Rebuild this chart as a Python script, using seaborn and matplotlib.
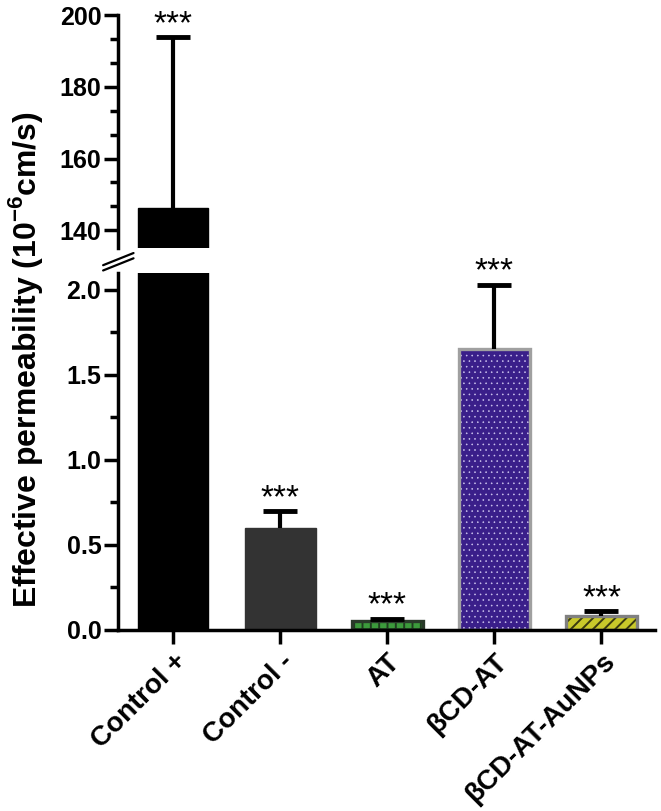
import seaborn as sns
import matplotlib.pyplot as plt
import pandas as pd
from matplotlib.patches import Rectangle
from matplotlib.lines import Line2D
from matplotlib.ticker import AutoMinorLocator

groups = ["Control +", "Control -", "AT", "\u03b2CD-AT", "\u03b2CD-AT-AuNPs"]
means = [146.3, 0.60, 0.055, 1.65, 0.08]
errors = [47.5, 0.10, 0.012, 0.38, 0.03]
stars = ["***", "***", "***", "***", "***"]

df = pd.DataFrame({"group": groups, "value": means})

sns.set_theme(style="ticks")
plt.rcParams['font.family'] = ['Liberation Sans', 'DejaVu Sans']
plt.rcParams['mathtext.fontset'] = 'custom'
plt.rcParams['mathtext.rm'] = 'Liberation Sans:bold'
plt.rcParams['mathtext.bf'] = 'Liberation Sans:bold'
plt.rcParams['hatch.linewidth'] = 1.4
for k in ['text.color', 'axes.labelcolor', 'axes.edgecolor',
          'xtick.color', 'ytick.color']:
    plt.rcParams[k] = 'black'

fig = plt.figure(figsize=(6.61, 8.11), dpi=100)
ax_top = fig.add_axes([0.1785, 0.694, 0.8125, 0.2873])
ax_bot = fig.add_axes([0.1785, 0.2232, 0.8125, 0.4402])

faces = ["#000000", "#333333", "#3c9a3c", "#3a1f8a", "#c9c92a"]
edges = ["#000000", "#333333", "#2a3a2a", "#a0a0a0", "#808080"]
hatches = [None, None, "++", "...", "///"]
hatch_cols = [None, None, "#1f3d1f", "#cfc6f0", "#3a3a10"]
hatch_lw = [None, None, 1.4, 0.4, 1.4]

for ax in (ax_top, ax_bot):
    sns.barplot(data=df, x="group", y="value", width=0.66, ax=ax,
                color="black", errorbar=None)
    for i, p in enumerate(ax.patches):
        p.set_facecolor(faces[i])
        if hatches[i]:
            p.set_hatch(hatches[i])
            p.set_edgecolor(hatch_cols[i])
            p.set_linewidth(0)
            if hasattr(p, "set_hatch_linewidth"):
                p.set_hatch_linewidth(hatch_lw[i])
            ax.add_patch(Rectangle(p.get_xy(), p.get_width(), p.get_height(),
                                   fill=False, edgecolor=edges[i], lw=2.4,
                                   zorder=p.get_zorder() + 0.1))
        else:
            p.set_edgecolor(edges[i])
            p.set_linewidth(1)
    eb = ax.errorbar(range(len(groups)), means,
                     yerr=[[0] * len(groups), errors],
                     fmt="none", ecolor="black", elinewidth=3, capsize=12,
                     capthick=3.5, zorder=5)
    # keep only the upper caps
    eb[1][0].set_visible(False)
    for i, s in enumerate(stars):
        ax.annotate(s, (i, means[i] + errors[i]), xytext=(0, 3),
                    textcoords="offset points", ha="center", va="baseline",
                    fontsize=24, family="Liberation Sans", annotation_clip=True)
    ax.set_xlim(-0.514, 4.5)
    ax.set_xlabel("")
    ax.set_ylabel("")
    for sp in ["top", "right"]:
        ax.spines[sp].set_visible(False)
    ax.spines["left"].set_linewidth(2.5)
    ax.spines["bottom"].set_linewidth(2.5)
    ax.tick_params(axis="y", which="major", length=10, width=2.5,
                   labelsize=18, pad=2)
    ax.tick_params(axis="y", which="minor", length=6, width=2.5)
    ax.tick_params(axis="x", length=10, width=2.5, labelsize=20)

# top panel
ax_top.set_ylim(135, 200)
ax_top.yaxis.set_minor_locator(AutoMinorLocator(3))
ax_top.spines["bottom"].set_visible(False)
ax_top.tick_params(axis="x", bottom=False, labelbottom=False)
ax_top.set_yticks([140, 160, 180, 200])
ax_top.set_yticklabels(["140", "160", "180", "200"], fontweight="bold")

# bottom panel
ax_bot.set_ylim(0, 2.1)
ax_bot.yaxis.set_minor_locator(AutoMinorLocator(2))
ax_bot.set_yticks([0.0, 0.5, 1.0, 1.5, 2.0])
ax_bot.set_yticklabels(["0.0", "0.5", "1.0", "1.5", "2.0"], fontweight="bold")
ax_bot.set_xticks(range(len(groups)))
ax_bot.set_xticklabels(groups, rotation=45, ha="right", rotation_mode="anchor",
                       fontweight="bold", fontsize=20)

# axis break marks
for dy in (0.0, 0.0065):
    fig.add_artist(Line2D([0.156, 0.202], [0.673 - dy, 0.688 - dy],
                          transform=fig.transFigure, color="black", lw=1.6))

fig.text(0.039, 0.556, r"Effective permeability (10$^{\mathbf{-6}}$cm/s)",
         rotation=90, ha="center", va="center", fontsize=23, fontweight="bold")

fig.savefig("out.png", dpi=100)
